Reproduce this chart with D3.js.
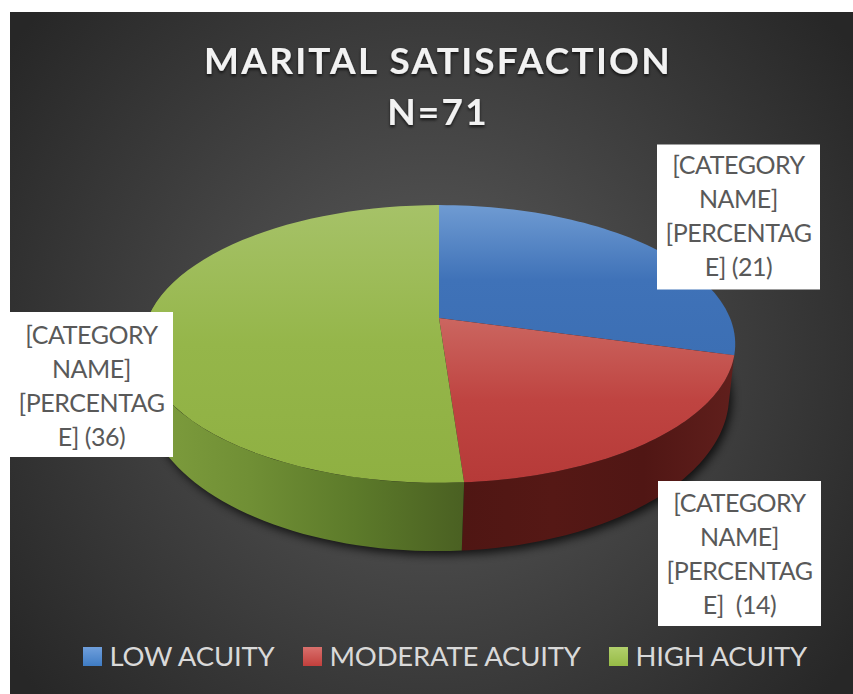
<!DOCTYPE html>
<html>
<head>
<meta charset="utf-8">
<script src="https://cdn.jsdelivr.net/npm/d3@7"></script>
<style>
  html, body { margin: 0; padding: 0; background: #fff; }
  svg { display: block; font-family: Lato, "Open Sans", sans-serif; }
</style>
</head>
<body>
<div id="chart-area"></div>
<script>
// Data
var categories = ["LOW ACUITY", "MODERATE ACUITY", "HIGH ACUITY"];
var counts = [21, 14, 36];
var titleLines = ["MARITAL SATISFACTION", "N=71"];
var lowLabel = ["[CATEGORY", "NAME]", "[PERCENTAG", "E] (21)"];
var moderateLabel = ["[CATEGORY", "NAME]", "[PERCENTAG", "E]  (14)"];
var highLabel = ["[CATEGORY", "NAME]", "[PERCENTAG", "E] (36)"];

var width = 853, height = 694;

var svg = d3.select("#chart-area")
    .append("svg")
        .attr("width", width)
        .attr("height", height);

var defs = svg.append("defs");

function gradient(id, x2, y2, stops) {
    var g = defs.append("linearGradient")
        .attr("id", id)
        .attr("x1", 0).attr("y1", 0)
        .attr("x2", x2).attr("y2", y2);
    stops.forEach(function(s, i) {
        g.append("stop")
            .attr("offset", i / (stops.length - 1))
            .attr("stop-color", s);
    });
}

// Top faces, walls and legend keys
gradient("top0", 0, 1, ["#6f9bd2", "#3f72b8", "#3c6fb4"]);
gradient("top1", 0, 1, ["#cb6660", "#bf4441", "#b63a38"]);
gradient("top2", 0, 1, ["#a6c268", "#95b64a", "#8fb042"]);
gradient("wall1", 1, 0, ["#4f1613", "#551815", "#501614", "#601f1c"]);
gradient("wall2", 1, 0, ["#7f9e3e", "#708f35", "#5c7a2a", "#4a6022"]);
gradient("key0", 0, 1, ["#6f9fdc", "#3f7cc4"]);
gradient("key1", 0, 1, ["#d9706c", "#c23f3c"]);
gradient("key2", 0, 1, ["#b2d06c", "#96bb46"]);

var bg = defs.append("radialGradient")
    .attr("id", "bg")
    .attr("gradientUnits", "userSpaceOnUse")
    .attr("cx", 431).attr("cy", 353).attr("r", 520);
bg.append("stop").attr("offset", 0).attr("stop-color", "#5c5c5c");
bg.append("stop").attr("offset", 1).attr("stop-color", "#272727");

defs.append("filter")
    .attr("id", "soft")
    .attr("x", "-10%").attr("y", "-10%")
    .attr("width", "120%").attr("height", "120%")
    .append("feGaussianBlur")
    .attr("stdDeviation", 5);

var textShadow = defs.append("filter").attr("id", "titleShadow");
textShadow.append("feDropShadow")
    .attr("dx", 0).attr("dy", 2)
    .attr("stdDeviation", 1.5)
    .attr("flood-color", "#000")
    .attr("flood-opacity", 0.7);

svg.append("rect")
    .attr("x", 10).attr("y", 12)
    .attr("width", width - 10).attr("height", height - 12)
    .attr("fill", "url(#bg)");

// Title
svg.selectAll(".title")
    .data(titleLines)
    .enter().append("text")
        .attr("class", "title")
        .attr("x", 438)
        .attr("y", function(d, i) { return 74 + i * 51; })
        .attr("text-anchor", "middle")
        .attr("font-size", "37px")
        .attr("font-weight", 700)
        .attr("letter-spacing", "2.2px")
        .attr("fill", "#f2f2f2")
        .attr("filter", "url(#titleShadow)")
        .text(function(d) { return d; });

// Pie tilted in perspective: rim points come from the pie angles
var pie = d3.pie().sort(null);
var arcs = pie(counts);

var topRim = { cx: 439, cy: 318, a: 134, b: 291 };
var bottomRim = { cx: 437, cy: 366, a: 150.5, b: 287 };
var k = 0.187;
var twist = 0.026; // perspective pulls the front edges over a little

function project(rim, angle, r) {
    var t = angle - twist * Math.sin(angle / 2);
    var X = Math.sin(t) * r;
    var Y = -Math.cos(t) * r;
    var w = 1 - k * Y;
    return [rim.cx + rim.b * X / w, rim.cy + rim.a * Y / w];
}

function rimPoints(rim, a0, a1) {
    return d3.range(0, 61).map(function(i) {
        return project(rim, a0 + (a1 - a0) * i / 60, 1);
    });
}

var line = d3.line();
var halfTurn = Math.PI;

// Shadow under the pie
svg.append("path")
    .attr("d", line(rimPoints(bottomRim, 0, 2 * Math.PI)) + "Z")
    .attr("transform", "translate(3,4)")
    .attr("fill", "#000")
    .attr("opacity", 0.75)
    .attr("filter", "url(#soft)");

// Walls, only the front half of the rim shows
var wallLimit = 1.62 * Math.PI;
svg.selectAll(".wall")
    .data(arcs.filter(function(d) { return d.endAngle > halfTurn * 0.55; }))
    .enter().append("path")
        .attr("class", "wall")
        .attr("fill", function(d) { return "url(#wall" + d.index + ")"; })
        .attr("d", function(d) {
            var a0 = d.startAngle, a1 = Math.min(d.endAngle, wallLimit);
            return line(rimPoints(topRim, a0, a1).concat(rimPoints(bottomRim, a0, a1).reverse())) + "Z";
        });

// Top faces
svg.selectAll(".face")
    .data(arcs)
    .enter().append("path")
        .attr("class", "face")
        .attr("fill", function(d) { return "url(#top" + d.index + ")"; })
        .attr("d", function(d) {
            return line([project(topRim, 0, 0)].concat(rimPoints(topRim, d.startAngle, d.endAngle))) + "Z";
        });

// Data labels
var labelBoxes = [
    { lines: lowLabel, x: 657, y: 144.5, dy: 0.5 },
    { lines: moderateLabel, x: 658, y: 481, dy: 2 },
    { lines: highLabel, x: 10, y: 312, dy: 2.5 }
];

var boxes = svg.selectAll(".label")
    .data(labelBoxes)
    .enter().append("g")
        .attr("class", "label")
        .attr("transform", function(d) { return "translate(" + d.x + "," + d.y + ")"; });

boxes.append("rect")
    .attr("width", 163)
    .attr("height", 145)
    .attr("fill", "#fff");

boxes.each(function(box) {
    d3.select(this).selectAll("text")
        .data(box.lines)
        .enter().append("text")
            .attr("x", 81.5)
            .attr("y", function(d, i) { return 29 + box.dy + i * 34; })
            .attr("text-anchor", "middle")
            .attr("font-size", "25px")
            .attr("letter-spacing", "-0.45px")
            .attr("fill", "#595959")
            .style("white-space", "pre")
            .text(function(d) { return d; });
});

// Legend
var legendX = d3.scaleOrdinal()
    .domain(categories)
    .range([83, 303, 609]);

var legend = svg.selectAll(".legend")
    .data(categories)
    .enter().append("g")
        .attr("class", "legend")
        .attr("transform", function(d) { return "translate(" + legendX(d) + ",647)"; });

legend.append("rect")
    .attr("width", 19)
    .attr("height", 19)
    .attr("fill", function(d, i) { return "url(#key" + i + ")"; });

legend.append("text")
    .attr("x", 26.5)
    .attr("y", 18.5)
    .attr("font-size", "27.5px")
    .attr("letter-spacing", "-0.2px")
    .attr("fill", "#d9d9d9")
    .text(function(d) { return d; });
</script>
</body>
</html>
